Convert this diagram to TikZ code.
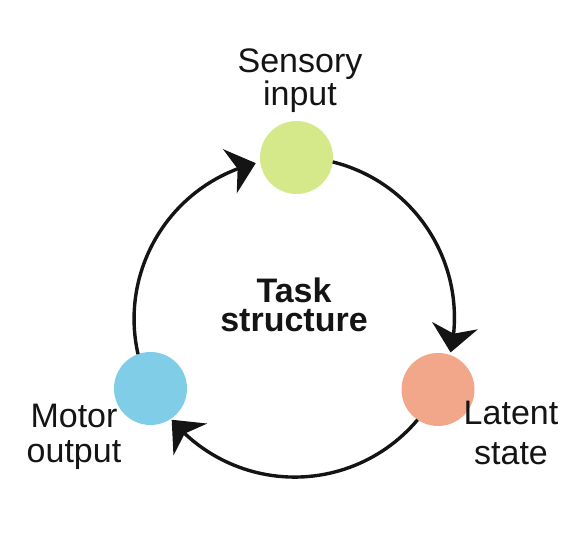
\documentclass[tikz,border=0pt]{standalone}
\usepackage{fontspec}
\setmainfont{Liberation Sans}
\usetikzlibrary{arrows.meta,bending}
\definecolor{sensgreen}{RGB}{213,232,138}
\definecolor{latorange}{RGB}{242,167,138}
\definecolor{motblue}{RGB}{127,205,231}
\definecolor{ink}{RGB}{20,20,20}
\begin{document}
\begin{tikzpicture}[x=1pt,y=1pt,
  statecirc/.style={circle,minimum size=73pt,inner sep=0pt,outer sep=0pt},
  lbl/.style={align=center,anchor=base,text=ink,inner sep=0pt},
  link/.style={draw=ink,line width=3.4pt,-{Stealth[length=27pt,width=46pt,inset=8pt,flex]}}]
\useasboundingbox (0,0) rectangle (575,545);
\node[statecirc,fill=sensgreen] (s) at (296.5,387.5) {};
\node[statecirc,fill=latorange] (l) at (438,155.5) {};
\node[statecirc,fill=motblue] (m) at (150.5,156.5) {};
\draw[link] (s.-7.5) arc[start angle=76,end angle=-12.5,radius=160.5];
\draw[link] (l.236.8) arc[start angle=-40,end angle=-140,radius=160.5];
\draw[link] (m.110) arc[start angle=192.7,end angle=104,radius=160.5];
\node[lbl,font=\fontsize{34}{33.5}\selectfont] (sl) at (300,439) {Sensory\\input};
\node[lbl,font=\fontsize{34}{40}\selectfont] (ll) at (511,80) {Latent\\state};
\node[lbl,font=\fontsize{34}{35}\selectfont] (ml) at (74,82.3) {Motor\\output};
\node[lbl,font=\fontsize{34}{29}\selectfont\bfseries] (task) at (294,213) {Task\\structure};
\end{tikzpicture}
\end{document}
